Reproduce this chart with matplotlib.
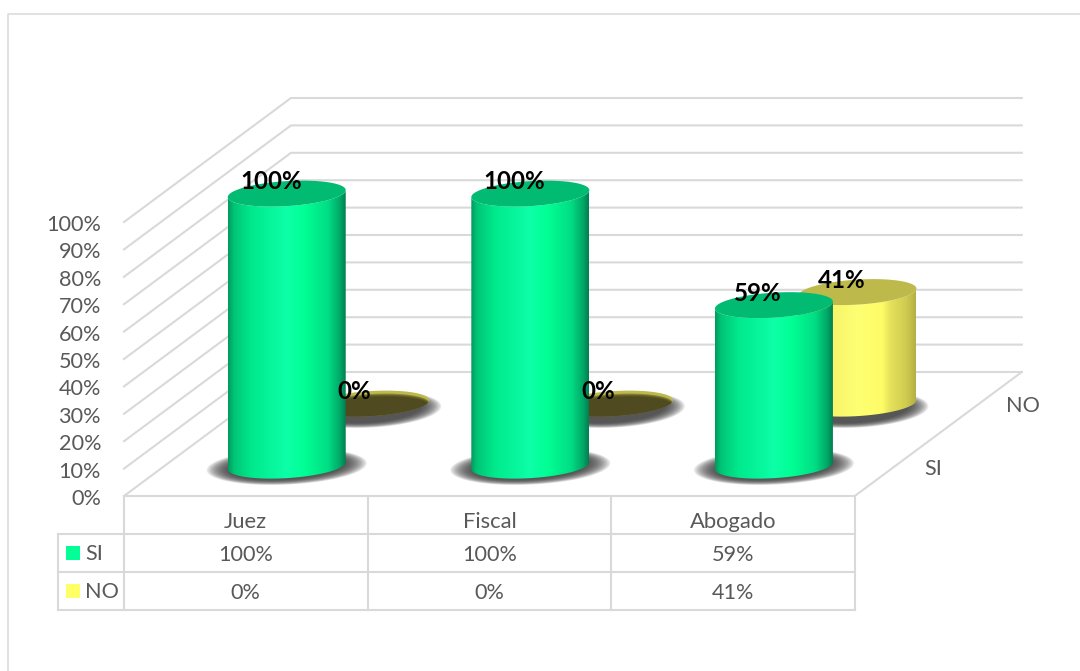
import matplotlib
matplotlib.use('Agg')
import matplotlib.pyplot as plt
from matplotlib.colors import LinearSegmentedColormap
from matplotlib.patches import Polygon
import numpy as np

categories = ['Juez', 'Fiscal', 'Abogado']
series_names = ['SI', 'NO']
si_values = [100, 100, 59]
no_values = [0, 0, 41]
y_ticks = [0, 10, 20, 30, 40, 50, 60, 70, 80, 90, 100]

GREY = '#d9d9d9'
TEXT = '#595959'
plt.rcParams['font.family'] = ['Lato', 'DejaVu Sans']

# pseudo 3d box, everything in pixels of the picture
X0, Y0 = 124, 496
CAT_W = 243.6
DEPTH_X, DEPTH_Y = 167, 124
PCT = 2.74
CYL_PCT = 2.72
RAD_X, RAD_Y, TILT = 59, 12.5, 3.5


def project(cat, depth, value, pct=PCT):
    return X0 + cat * CAT_W + depth * DEPTH_X, Y0 - depth * DEPTH_Y - value * pct


def ellipse(cx, cy, t, ax_=RAD_X, ay_=RAD_Y, tilt=TILT):
    return np.column_stack([cx + ax_ * np.cos(t), cy + ay_ * np.sin(t) - tilt * np.cos(t)])


fig = plt.figure(figsize=(10.8, 6.71), dpi=100)
ax = fig.add_axes([0, 0, 1, 1])
ax.axis('off')

green_map = LinearSegmentedColormap.from_list('g', [(0, '#009a5c'), (0.05, '#00c577'), (0.2, '#00e98c'),
                                                    (0.5, '#0dffa8'), (0.65, '#00ff94'), (0.85, '#00dd84'),
                                                    (0.95, '#00a968'), (1, '#007f50')])
yellow_map = LinearSegmentedColormap.from_list('y', [(0, '#c4c04e'), (0.1, '#eeea62'), (0.5, '#ffff73'),
                                                     (0.72, '#fdfb66'), (0.78, '#e6e25b'), (0.92, '#cfcb50'),
                                                     (1, '#b4b044')])
series_style = [(0.245, green_map, '#02bb72', 80, 18, 1), (0.745, yellow_map, '#bdb94b', 71, 18, 6)]

# frame of the chart area
ax.plot([8, 8, 1080], [671, 14, 14], color=GREY, lw=1.1)

# walls
for v in y_ticks:
    xa, ya = project(0, 0, v)
    xb, yb = project(0, 1, v)
    xc, yc = project(len(categories), 1, v)
    ax.plot([xa, xb, xc], [ya, yb, yc], color=GREY, lw=1.5, solid_joinstyle='miter')
    ax.text(xa - 23, ya + 3, '%d%%' % v, ha='right', va='center', fontsize=15.6, color=TEXT)
xa, ya = project(len(categories), 0, 0)
xb, yb = project(len(categories), 1, 0)
ax.plot([xa, xb], [ya, yb], color=GREY, lw=1.5)

# table under the chart
row_y = [Y0, 534, 572, 610]
col_x = [project(i, 0, 0)[0] for i in range(len(categories) + 1)]
ax.plot([col_x[0], col_x[-1]], [row_y[0], row_y[0]], color=GREY, lw=1.5)
for y in row_y[1:]:
    ax.plot([58, col_x[-1]], [y, y], color=GREY, lw=1.5)
for x in col_x:
    ax.plot([x, x], [row_y[0], row_y[-1]], color=GREY, lw=1.5)
ax.plot([58, 58], [row_y[1], row_y[-1]], color=GREY, lw=1.5)

for i, name in enumerate(categories):
    cx = (col_x[i] + col_x[i + 1]) / 2
    ax.text(cx, 522, name, ha='center', va='center', fontsize=15.8, color=TEXT)
    ax.text(cx, 555, '%d%%' % si_values[i], ha='center', va='center', fontsize=15.6, color=TEXT)
    ax.text(cx, 593, '%d%%' % no_values[i], ha='center', va='center', fontsize=15.6, color=TEXT)

key_colors = ['#00ff94', '#ffff66']
for j, name in enumerate(series_names):
    yk = (row_y[j + 1] + row_y[j + 2]) / 2 - 0.5
    ax.add_patch(plt.Rectangle((66, yk - 7), 14, 14, color=key_colors[j], lw=0))
    ax.text(85, yk + 2, name, ha='left', va='center', fontsize=15.6, color=TEXT)

# depth axis labels
ax.text(933, 469, series_names[0], ha='center', va='center', fontsize=15.6, color=TEXT)
ax.text(1023, 406, series_names[1], ha='center', va='center', fontsize=15.6, color=TEXT)

# cylinders, back row first
grad = np.linspace(0, 1, 256).reshape(1, -1)
t_full = np.linspace(0, 2 * np.pi, 120)
z = 3
for values, (depth, cmap, top_color, sh_x, sh_y, sh_dy) in reversed(list(zip([si_values, no_values], series_style))):
    for i, v in enumerate(values):
        cx, cy0 = project(i + 0.5, depth, 0)
        cx, cy1 = project(i + 0.5, depth, v, CYL_PCT)
        # soft shadow on the floor
        for s in np.linspace(1, 0.72, 16):
            ax.add_patch(Polygon(ellipse(cx, cy0 + sh_dy, t_full, sh_x * s, sh_y * s), color='#3c3c3c',
                                 alpha=0.11, lw=0, zorder=z))
        z += 1
        if v > 0:
            low = ellipse(cx, cy0, np.linspace(np.pi, 0, 60))
            high = ellipse(cx, cy1, np.linspace(0, np.pi, 60))
            patch = Polygon(np.vstack([low, high]), closed=True, fc='none', ec='none', zorder=z)
            ax.add_patch(patch)
            im = ax.imshow(grad, cmap=cmap, extent=[cx - RAD_X, cx + RAD_X, cy0 + 20, cy1 - 20],
                           aspect='auto', zorder=z, interpolation='bilinear')
            im.set_clip_path(patch)
            ax.add_patch(Polygon(ellipse(cx, cy1, t_full), color=top_color, lw=0, zorder=z + 1))
        else:
            top = Polygon(ellipse(cx, cy1, t_full), color=top_color, lw=0, zorder=z + 1)
            ax.add_patch(top)
            for dy in [3, 4, 5, 6]:
                inner = Polygon(ellipse(cx, cy1 + dy, t_full), color='#45401c', alpha=0.45, lw=0, zorder=z + 1)
                ax.add_patch(inner)
                inner.set_clip_path(top)
        z += 2

# data labels
for values, (depth, *_rest) in zip([si_values, no_values], series_style):
    for i, v in enumerate(values):
        cx, cy = project(i + 0.5, depth, v, CYL_PCT)
        ax.text(cx - 16, cy - 12, '%d%%' % v, ha='center', va='center', fontsize=17.4,
                fontweight='bold', color='black', zorder=100)

ax.set_xlim(0, 1080)
ax.set_ylim(671, 0)
fig.savefig('out.png', dpi=100, facecolor='white')
